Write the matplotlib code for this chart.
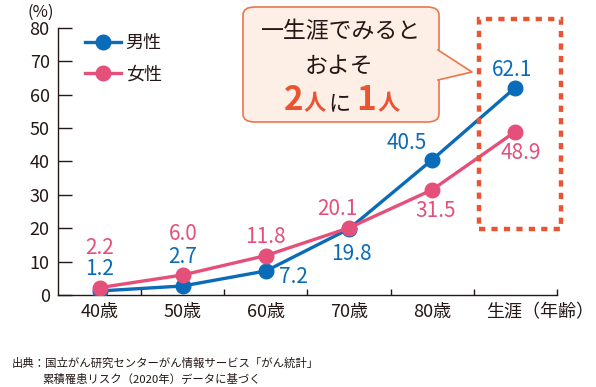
import matplotlib.pyplot as plt
import matplotlib.transforms as mtransforms
from matplotlib.patches import FancyBboxPatch, Polygon, Rectangle
from matplotlib.lines import Line2D

plt.rcParams['font.family'] = ['Noto Sans CJK JP', 'DejaVu Sans']

# データ
categories = ["40歳", "50歳", "60歳", "70歳", "80歳", "生涯（年齢）"]
male = [1.2, 2.7, 7.2, 19.8, 40.5, 62.1]
female = [2.2, 6.0, 11.8, 20.1, 31.5, 48.9]
yticks = [0, 10, 20, 30, 40, 50, 60, 70, 80]

# ラベルの位置 (ピクセル単位のずれ)
male_offsets = [(0, 22), (0, 29), (28, -6), (2, -25), (-25, 17), (-3, 18)]
female_offsets = [(0, 40), (0, 41), (0, 19), (-12, 19), (3, -21), (5, -21)]

blue = "#0a6bb8"
pink = "#e5507a"
orange = "#e95532"
dark = "#231815"

W, H = 596, 387
fig = plt.figure(figsize=(W / 100, H / 100), dpi=100)
ax = fig.add_axes([58 / W, 1 - 295 / H, (557 - 58) / W, (295 - 27.7) / H])


def fx(px):
    return px / W


def fy(py):
    return 1 - py / H


x = list(range(len(categories)))
ax.plot(x, male, color=blue, lw=2.4, marker="o", ms=10.5, zorder=3, label="男性")
ax.plot(x, female, color=pink, lw=2.4, marker="o", ms=10.5, zorder=4, label="女性")

for i in x:
    ax.annotate(f"{male[i]:.1f}", (i, male[i]), xytext=male_offsets[i],
                textcoords="offset pixels", ha="center", va="center",
                color=blue, fontsize=15)
    ax.annotate(f"{female[i]:.1f}", (i, female[i]), xytext=female_offsets[i],
                textcoords="offset pixels", ha="center", va="center",
                color=pink, fontsize=15)

ax.set_xlim(-0.5, len(categories) - 0.5)
ax.set_ylim(0, 80)
ax.set_yticks(yticks)
ax.set_xticks(x)
ax.set_xticklabels(categories)
ax.set_xticks([i + 0.5 for i in x], minor=True)
ax.tick_params(axis="x", which="major", length=0, pad=6, labelsize=13, labelcolor=dark)
ax.tick_params(axis="x", which="minor", direction="in", length=4.5, width=1, color=dark)
ax.tick_params(axis="y", direction="in", length=10, width=1, pad=6, labelsize=13,
               labelcolor=dark, color=dark)
for s in ["top", "right"]:
    ax.spines[s].set_visible(False)
for s in ["left", "bottom"]:
    ax.spines[s].set_color(dark)
    ax.spines[s].set_linewidth(1)

# 最後のラベルは右へずらす
last = ax.get_xticklabels()[-1]
last.set_transform(last.get_transform() +
                   mtransforms.ScaledTranslation(0.25, 0, fig.dpi_scale_trans))

fig.text(fx(41), fy(12), "(%)", ha="center", va="center", fontsize=12, color=dark)

leg = ax.legend(loc="upper left", bbox_to_anchor=(fx(76), fy(25)),
                bbox_transform=fig.transFigure, frameon=False, fontsize=13,
                handlelength=2.0, handletextpad=0.25, labelspacing=0.75, borderpad=0)
for t in leg.get_texts():
    t.set_color(dark)

# 点線の枠
ax.add_patch(Rectangle((4.56, 19.8), 0.99, 62.8, fill=False, ec=orange, lw=3.2,
                       ls=(0, (1.4, 1.4)), clip_on=False, zorder=5))

# 吹き出し
face = "#fdeee6"
edge = "#ea7650"
box = FancyBboxPatch((fx(243), fy(122)), fx(439) - fx(243), fy(7) - fy(122),
                     boxstyle="round,pad=0,rounding_size=0.02", transform=fig.transFigure,
                     fc=face, ec=edge, lw=1.2, zorder=6)
fig.add_artist(box)
tri = [(fx(438), fy(50)), (fx(472), fy(72)), (fx(438), fy(80))]
fig.add_artist(Polygon(tri, closed=True, transform=fig.transFigure, fc=face, ec="none", zorder=7))
fig.add_artist(Line2D([tri[0][0], tri[1][0], tri[2][0]], [tri[0][1], tri[1][1], tri[2][1]],
                      transform=fig.transFigure, color=edge, lw=1.2, zorder=8))

fig.text(fx(341), fy(32), "一生涯でみると", ha="center", va="center", fontsize=16.5,
         color=dark, zorder=9)
fig.text(fx(339), fy(66), "およそ", ha="center", va="center", fontsize=16.5,
         color=dark, zorder=9)
fig.text(fx(294), fy(110), "2", ha="center", va="baseline", fontsize=24,
         fontweight="bold", color=orange, zorder=9)
fig.text(fx(315), fy(110), "人", ha="center", va="baseline", fontsize=16,
         fontweight="bold", color=orange, zorder=9)
fig.text(fx(339), fy(110), "に", ha="center", va="baseline", fontsize=16,
         color=dark, zorder=9)
fig.text(fx(366), fy(110), "1", ha="center", va="baseline", fontsize=24,
         fontweight="bold", color=orange, zorder=9)
fig.text(fx(389), fy(110), "人", ha="center", va="baseline", fontsize=16,
         fontweight="bold", color=orange, zorder=9)

# 出典
fig.text(fx(12), fy(363), "出典：国立がん研究センターがん情報サービス「がん統計」",
         ha="left", va="center", fontsize=8.2, color=dark)
fig.text(fx(42), fy(379), "累積罹患リスク（2020年）データに基づく",
         ha="left", va="center", fontsize=8.2, color=dark)

fig.savefig("out.png", dpi=100)
